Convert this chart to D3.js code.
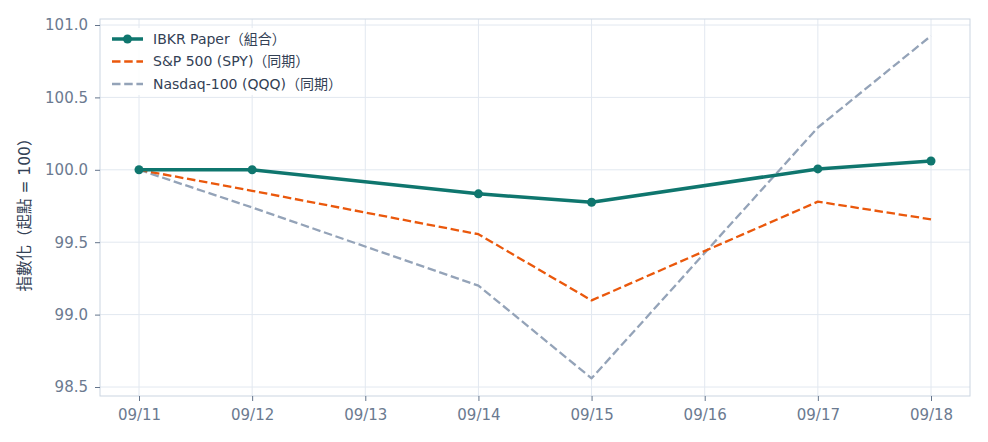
<!DOCTYPE html>
<html>
<head>
<meta charset="utf-8">
<script src="https://cdn.jsdelivr.net/npm/d3@7"></script>
<style>
html,body{margin:0;padding:0;background:#fff;}
svg{display:block;font-family:"DejaVu Sans","Noto Sans CJK TC",sans-serif;}
</style>
</head>
<body>
<svg id="chart" width="988" height="442"></svg>
<script>
const axisDates = ["2025-09-11","2025-09-12","2025-09-13","2025-09-14","2025-09-15","2025-09-16","2025-09-17","2025-09-18"];
const tradeDates = ["2025-09-11","2025-09-12","2025-09-14","2025-09-15","2025-09-17","2025-09-18"];
const ibkrValues = [100.0, 100.0, 99.834, 99.776, 100.006, 100.061];
const spyValues  = [100.0, 99.855, 99.555, 99.098, 99.78, 99.658];
const qqqValues  = [100.0, 99.74, 99.2, 98.56, 100.292, 100.925];
const yTicks = [98.5, 99.0, 99.5, 100.0, 100.5, 101.0];
const seriesNames = ["IBKR Paper（組合）", "S&P 500 (SPY)（同期）", "Nasdaq-100 (QQQ)（同期）"];
const yLabel = "指數化（起點 = 100）";

const parse = d3.utcParse("%Y-%m-%d");
const fmt = d3.utcFormat("%m/%d");

const svg = d3.select("#chart");
const frame = {left:100, right:970, top:19, bottom:396};

const x = d3.scaleUtc().domain([parse(axisDates[0]), parse(axisDates[axisDates.length-1])]).range([139, 931]);
const y = d3.scaleLinear().domain([98.5, 101.0]).range([387, 25]);

const gridColor = "#e2e8f0";
const spineColor = "#cbd5e1";
const tickText = "#64748b";

// grid
const grid = svg.append("g");
grid.selectAll("line.v").data(axisDates).join("line")
  .attr("x1", d => x(parse(d))).attr("x2", d => x(parse(d)))
  .attr("y1", frame.top).attr("y2", frame.bottom)
  .attr("stroke", gridColor).attr("stroke-width", 1);
grid.selectAll("line.h").data(yTicks).join("line")
  .attr("x1", frame.left).attr("x2", frame.right)
  .attr("y1", d => y(d)).attr("y2", d => y(d))
  .attr("stroke", gridColor).attr("stroke-width", 1);

// frame
svg.append("rect").attr("x", frame.left).attr("y", frame.top)
  .attr("width", frame.right-frame.left).attr("height", frame.bottom-frame.top)
  .attr("fill", "none").attr("stroke", spineColor).attr("stroke-width", 1);

// axes
const xAxis = d3.axisBottom(x).tickValues(axisDates.map(parse)).tickFormat(fmt).tickSize(5).tickPadding(8);
const gx = svg.append("g").attr("transform", `translate(0,${frame.bottom})`).call(xAxis);
gx.select(".domain").remove();
gx.selectAll(".tick line").attr("stroke", tickText).attr("stroke-width", 1);
gx.selectAll(".tick text").attr("fill", "#6b7a90").style("font-size", "15px").style("font-family", '"DejaVu Sans",sans-serif');

const yAxis = d3.axisLeft(y).tickValues(yTicks).tickFormat(d3.format(".1f")).tickSize(5).tickPadding(7);
const gy = svg.append("g").attr("transform", `translate(${frame.left},0)`).call(yAxis);
gy.select(".domain").remove();
gy.selectAll(".tick line").attr("stroke", tickText).attr("stroke-width", 1);
gy.selectAll(".tick text").attr("fill", "#6b7a90").style("font-size", "15px").style("font-family", '"DejaVu Sans",sans-serif');

// y label
svg.append("text").attr("transform", "translate(30,211) rotate(-90)")
  .attr("text-anchor", "middle").attr("fill", "#334155").style("font-size", "15.5px")
  .text(yLabel);

// lines
const mk = vals => tradeDates.map((d,i) => ({date: parse(d), v: vals[i]}));
const line = d3.line().x(d => x(d.date)).y(d => y(d.v));
const ibkr = {name: seriesNames[0], data: mk(ibkrValues), color:"#0f766e", width:3.5, dash:null, markers:true};
const spy  = {name: seriesNames[1], data: mk(spyValues), color:"#ea580c", width:2.3, dash:"8.5,3.7", markers:false};
const qqq  = {name: seriesNames[2], data: mk(qqqValues), color:"#94a3b8", width:2.3, dash:"8.5,3.7", markers:false};
[qqq, spy, ibkr].forEach(s => {
  svg.append("path").datum(s.data).attr("d", line)
    .attr("fill", "none").attr("stroke", s.color).attr("stroke-width", s.width)
    .attr("stroke-dasharray", s.dash).attr("stroke-linejoin", "round");
  if (s.markers) {
    svg.selectAll(null).data(s.data).join("circle")
      .attr("cx", d => x(d.date)).attr("cy", d => y(d.v)).attr("r", 4.5)
      .attr("fill", s.color);
  }
});

// legend
const lg = svg.append("g");
lg.append("rect").attr("x", 105).attr("y", 28).attr("width", 238).attr("height", 67)
  .attr("fill", "#fff").attr("fill-opacity", 0.85).attr("rx", 3);
[ibkr, spy, qqq].forEach((s, i) => {
  const yy = 39 + i * 22.5;
  lg.append("line").attr("x1", 112).attr("x2", 143).attr("y1", yy).attr("y2", yy)
    .attr("stroke", s.color).attr("stroke-width", s.width).attr("stroke-dasharray", s.dash);
  if (s.markers) lg.append("circle").attr("cx", 127.5).attr("cy", yy).attr("r", 4.5).attr("fill", s.color);
  lg.append("text").attr("x", 153).attr("y", yy).attr("dy", "0.35em")
    .attr("fill", "#334155").style("font-size", "14px").text(s.name);
});
</script>
</body>
</html>
